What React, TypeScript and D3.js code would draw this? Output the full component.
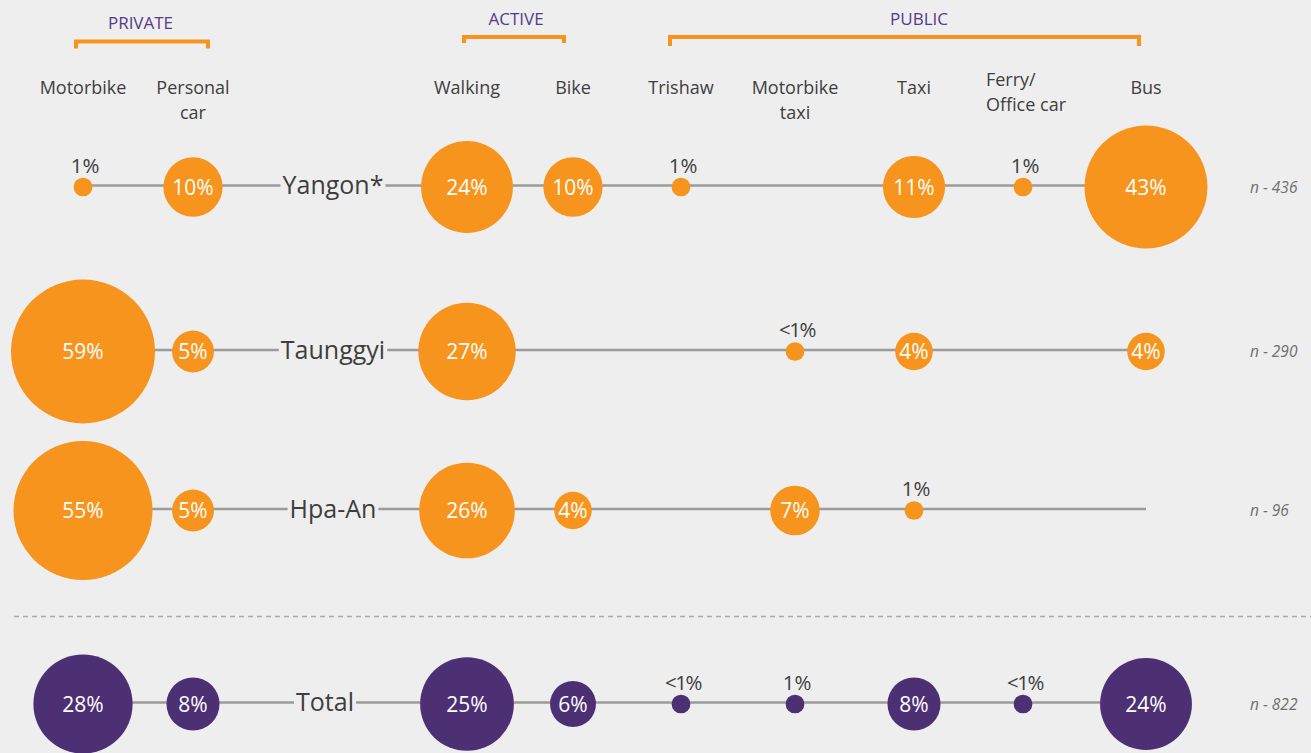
import React, { useEffect, useRef } from 'react';
import * as d3 from 'd3';

// ---------- data ----------
const cities = ['Yangon*', 'Taunggyi', 'Hpa-An', 'Total'];
const modes = ['Motorbike', 'Personal car', 'Walking', 'Bike', 'Trishaw', 'Motorbike taxi', 'Taxi', 'Ferry/Office car', 'Bus'];
const modeLabelLines = [['Motorbike'], ['Personal', 'car'], ['Walking'], ['Bike'], ['Trishaw'], ['Motorbike', 'taxi'], ['Taxi'], ['Ferry/', 'Office car'], ['Bus']];
// values in %, null = no bubble, 0.5 = "<1%"
const yangonValues = [1, 10, 24, 10, 1, null, 11, 1, 43];
const taunggyiValues = [59, 5, 27, null, null, 0.5, 4, null, 4];
const hpaAnValues = [55, 5, 26, 4, null, 7, 1, null, null];
const totalValues = [28, 8, 25, 6, 0.5, 1, 8, 0.5, 24];
const sampleSizes = [436, 290, 96, 822];
const groupNames = ['PRIVATE', 'ACTIVE', 'PUBLIC'];
const groupFirstMode = ['Motorbike', 'Walking', 'Trishaw'];
const groupLastMode = ['Personal car', 'Bike', 'Bus'];

const seriesByCity = [yangonValues, taunggyiValues, hpaAnValues, totalValues];

// ---------- layout / style ----------
const W = 1311;
const H = 753;
const FONT = "'Open Sans', 'Noto Sans', sans-serif";
const ORANGE = '#F7941D';
const PURPLE = '#4D2F74';
const HEADER_PURPLE = '#553B8C';
const TEXT = '#3E3E3E';
const LINE = '#9B9B9B';
const BG = '#EEEEEE';

export default function App() {
  const ref = useRef<SVGSVGElement>(null);

  useEffect(() => {
    const svg = d3.select(ref.current);
    svg.selectAll('*').remove();

    svg.append('rect').attr('width', W).attr('height', H).attr('fill', BG);

    const x = d3.scaleOrdinal<string, number>()
      .domain(modes)
      .range([83, 193, 467, 573, 681, 795, 914, 1023, 1146]);
    const y = d3.scaleOrdinal<string, number>()
      .domain(cities)
      .range([185.5, 350, 509, 702.5]);
    const r = d3.scaleSqrt().domain([0, 59]).range([0, 72]);

    // ---- group headers with brackets ----
    const bracketPad: [number, number][] = [[-9, 17], [-5, -7], [-13, -5]];
    const bracketTop = [41.5, 37, 37];
    const bracketBottom = [48.5, 43, 46];
    const headerX = [140.5, 516, 919];
    const headerY = [29, 24.5, 24.5];
    groupNames.forEach((g, i) => {
      const x0 = x(groupFirstMode[i]) + bracketPad[i][0] + 2;
      const x1 = x(groupLastMode[i]) + bracketPad[i][1] - 2;
      svg.append('path')
        .attr('d', `M${x0},${bracketBottom[i]}V${bracketTop[i]}H${x1}V${bracketBottom[i]}`)
        .attr('fill', 'none')
        .attr('stroke', ORANGE)
        .attr('stroke-width', 4);
      svg.append('text')
        .attr('x', headerX[i])
        .attr('y', headerY[i])
        .attr('text-anchor', 'middle')
        .attr('font-family', FONT)
        .attr('font-size', 17)
        .attr('fill', HEADER_PURPLE)
        .text(g);
    });

    // ---- column labels ----
    const leftAligned = new Set(['Ferry/Office car']);
    modes.forEach((m, i) => {
      const lines = modeLabelLines[i];
      const t = svg.append('text')
        .attr('font-family', FONT)
        .attr('font-size', 18)
        .attr('fill', TEXT);
      const firstBaseline = leftAligned.has(m) ? 86 : 94;
      lines.forEach((ln, j) => {
        t.append('tspan')
          .attr('x', x(m))
          .attr('y', firstBaseline + j * 24.5)
          .attr('text-anchor', 'middle')
          .text(ln);
      });
      if (leftAligned.has(m)) {
        const tsp = t.selectAll<SVGTSpanElement, unknown>('tspan');
        let maxW = 0;
        tsp.each(function () { maxW = Math.max(maxW, this.getComputedTextLength()); });
        tsp.attr('text-anchor', 'start').attr('x', x(m) + 3 - maxW / 2);
      }
    });

    // ---- rows ----
    cities.forEach((c, ci) => {
      const cy = y(c);
      const vals = seriesByCity[ci];
      const color = c === 'Total' ? PURPLE : ORANGE;

      svg.append('line')
        .attr('x1', x(modes[0]))
        .attr('x2', x(modes[modes.length - 1]))
        .attr('y1', cy)
        .attr('y2', cy)
        .attr('stroke', LINE)
        .attr('stroke-width', 2.5);

      // city label with background knockout
      const lblX = c === 'Total' ? 325 : 333;
      const bgRect = svg.append('rect').attr('fill', BG);
      const lbl = svg.append('text')
        .attr('x', lblX)
        .attr('y', cy)
        .attr('dy', '0.35em')
        .attr('text-anchor', 'middle')
        .attr('font-family', FONT)
        .attr('font-size', 25)
        .attr('fill', TEXT)
        .text(c);
      const bb = (lbl.node() as SVGTextElement).getBBox();
      bgRect.attr('x', bb.x - 2).attr('y', cy - 4).attr('width', bb.width + 4).attr('height', 8);

      const circCy = cy + 1.5;
      const pts = modes
        .map((m, i) => ({ m, v: vals[i] }))
        .filter((d) => d.v !== null) as { m: string; v: number }[];

      svg.append('g')
        .selectAll('circle')
        .data(pts)
        .join('circle')
        .attr('cx', (d) => x(d.m))
        .attr('cy', circCy)
        .attr('r', (d) => r(Math.max(d.v, 1)))
        .attr('fill', color);

      const fmt = (v: number) => (v < 1 ? '<1%' : `${v}%`);

      svg.append('g')
        .selectAll('text')
        .data(pts)
        .join('text')
        .attr('x', (d) => x(d.m) + (d.v >= 3 ? 0 : 2))
        .attr('y', (d) => (d.v >= 3 ? circCy : circCy - r(Math.max(d.v, 1)) - 5))
        .attr('dy', (d) => (d.v >= 3 ? '0.36em' : '0'))
        .attr('text-anchor', 'middle')
        .attr('font-family', FONT)
        .attr('font-size', (d) => (d.v >= 3 ? 21 : 20.5))
        .attr('letter-spacing', (d) => (d.v < 1 ? -1.5 : 0))
        .attr('fill', (d) => (d.v >= 3 ? '#FFFFFF' : TEXT))
        .text((d) => fmt(d.v));

      svg.append('text')
        .attr('x', 1250)
        .attr('y', cy + 2)
        .attr('dy', '0.35em')
        .attr('font-family', FONT)
        .attr('font-style', 'italic')
        .attr('font-size', 15.5)
        .attr('fill', '#707070')
        .text(`n - ${sampleSizes[ci]}`);
    });

    // ---- dashed separator ----
    svg.append('line')
      .attr('x1', 14)
      .attr('x2', W)
      .attr('y1', 616.5)
      .attr('y2', 616.5)
      .attr('stroke', '#AAAAAA')
      .attr('stroke-width', 1.3)
      .attr('stroke-dasharray', '5,4');
  }, []);

  return (
    <svg
      ref={ref}
      width={W}
      height={H}
      style={{ position: 'absolute', left: 0, top: 0, display: 'block' }}
    />
  );
}
